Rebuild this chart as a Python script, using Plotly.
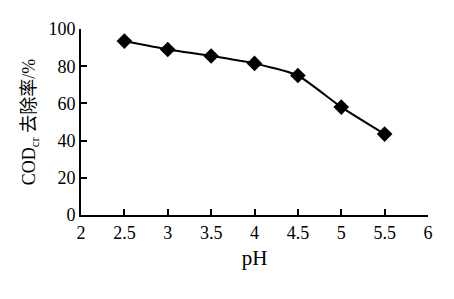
import plotly.graph_objects as go

ph = [2.5, 3, 3.5, 4, 4.5, 5, 5.5]
removal = [93.5, 89, 85.5, 81.5, 75, 58, 43.5]
x_ticks = [2, 2.5, 3, 3.5, 4, 4.5, 5, 5.5, 6]
x_tick_text = ["2", "2.5", "3", "3.5", "4", "4.5", "5", "5.5", "6"]
y_ticks = [0, 20, 40, 60, 80, 100]

font_serif = "Liberation Serif"

fig = go.Figure()
fig.add_trace(go.Scatter(
    x=ph, y=removal, mode="lines+markers",
    line=dict(color="black", width=2, shape="spline", smoothing=0.5),
    marker=dict(symbol="diamond", size=12, color="black"),
    showlegend=False,
))

fig.update_layout(
    width=454, height=299,
    margin=dict(l=81, r=26, t=29, b=84),
    paper_bgcolor="white", plot_bgcolor="white",
    font=dict(family=font_serif, size=18, color="black"),
    xaxis=dict(
        range=[2, 6], tickvals=x_ticks, ticktext=x_tick_text,
        tickfont=dict(family=font_serif, size=18, color="black"),
        showline=True, linecolor="black", linewidth=2,
        ticks="inside", ticklen=6, tickwidth=1.5, tickcolor="black",
        showgrid=False, zeroline=False,
        title=dict(text="pH", font=dict(family=font_serif, size=21), standoff=9),
    ),
    yaxis=dict(
        range=[0, 100], tickvals=y_ticks,
        tickfont=dict(family=font_serif, size=18, color="black"),
        showline=True, linecolor="black", linewidth=2,
        ticks="inside", ticklen=6, tickwidth=1.5, tickcolor="black",
        showgrid=False, zeroline=False,
        title=dict(
            text="COD<sub>cr</sub> 去除率/%",
            font=dict(family="Liberation Serif, Noto Sans CJK SC", size=18), standoff=8),
    ),
)

fig.write_html("out.html")
